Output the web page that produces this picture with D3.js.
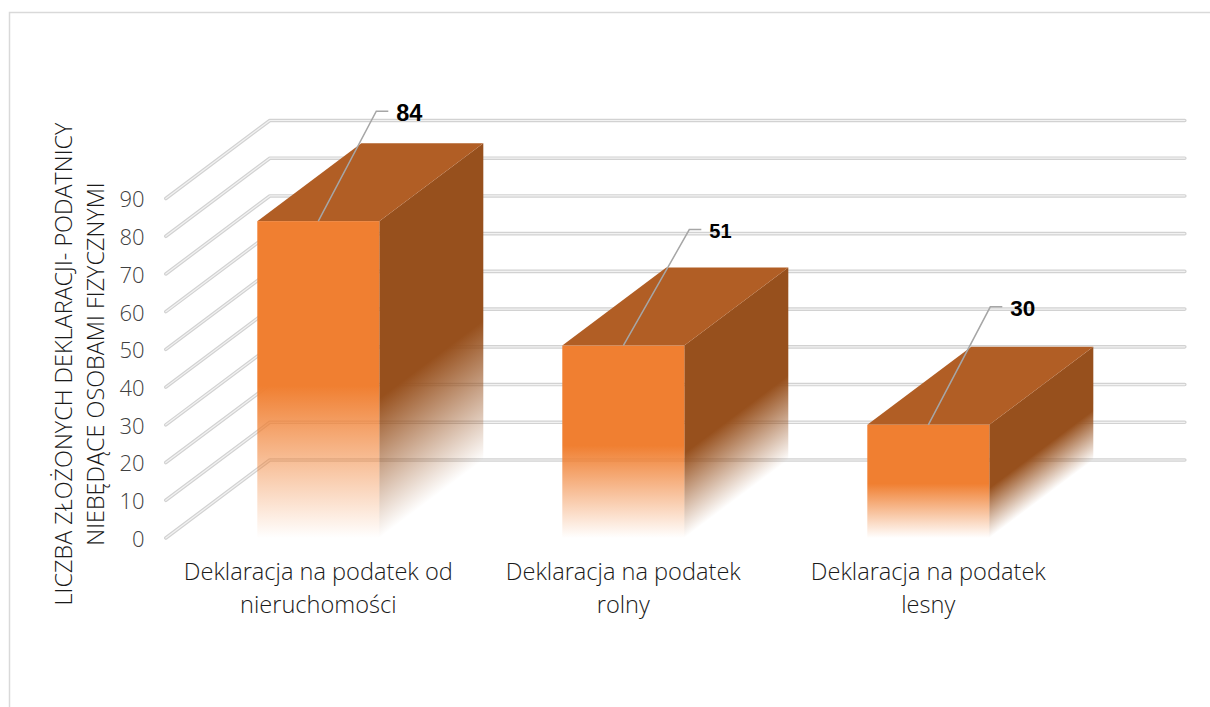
<!DOCTYPE html>
<html><head><meta charset="utf-8">
<script src="https://d3js.org/d3.v7.min.js"></script>
<style>html,body{margin:0;padding:0;background:#fff}svg{display:block}</style>
</head><body><svg id="c" width="1210" height="707"></svg>
<script>
const categories = [["Deklaracja na podatek od","nieruchomości"],["Deklaracja na podatek","rolny"],["Deklaracja na podatek","lesny"]];
const values = [84,51,30];
const ticks = [0,10,20,30,40,50,60,70,80,90];
const axisTitle = ["LICZBA ZŁOŻONYCH DEKLARACJI- PODATNICY","NIEBĘDĄCE OSOBAMI FIZYCZNYMI"];
const labelSizes = [23.5,20,22.5];

const svg = d3.select("#c");
const dx = 104, dy = -78;
const x = d3.scaleBand().domain(d3.range(categories.length)).range([165.8,1080.8]).paddingInner(0.6).paddingOuter(0.3);
const y = d3.scaleLinear().domain([0,90]).range([538,198.5]);
const x0 = x.range()[0], x1 = x.range()[1];

// frame
svg.append("path").attr("d","M9.5,707V12.5H1210").attr("fill","none").attr("stroke","#d9d9d9").attr("stroke-width",1.5);

// grid
const gridPath = t => `M${x0},${y(t)}L${x0+dx},${y(t)+dy}L${x1+dx},${y(t)+dy}`;
const g = svg.append("g").attr("fill","none").attr("stroke-linejoin","round").attr("stroke-linecap","round");
g.selectAll("path.o").data(ticks).join("path").attr("class","o").attr("d",gridPath).attr("stroke","#d2d2d2").attr("stroke-width",3.6);
g.selectAll("path.i").data(ticks).join("path").attr("class","i").attr("d",gridPath).attr("stroke","#f2f2f2").attr("stroke-width",1.2);

// axis tick labels
svg.append("g").selectAll("text").data(ticks).join("text")
  .attr("x",144.5).attr("y",d=>y(d)+1).attr("dy","0.36em").attr("text-anchor","end")
  .attr("font-family","'Open Sans'").attr("font-size",22).attr("font-weight",300).attr("fill","#404040").text(d=>d);

// axis title
const title = svg.append("g").attr("font-family","'Open Sans'").attr("font-size",23.4).attr("font-weight",300).attr("fill","#1a1a1a").attr("text-anchor","middle");
axisTitle.forEach((t,i)=>title.append("text").attr("transform",`translate(${72+i*32},364) rotate(-90)`).text(t));

// bars
const defs = svg.append("defs");
function grad(id,c,a,b,mid){
  const lg = defs.append("linearGradient").attr("id",id).attr("gradientUnits","userSpaceOnUse")
    .attr("x1",a[0]).attr("y1",a[1]).attr("x2",b[0]).attr("y2",b[1]);
  [[0,1],[mid,1],[1,0]].forEach(s=>lg.append("stop").attr("offset",s[0]).attr("stop-color",c).attr("stop-opacity",s[1]));
}
const bars = svg.append("g");
values.forEach((v,i)=>{
  const l = x(i), r = l + x.bandwidth(), t = y(v), b = y(0);
  grad("f"+i,"#f07f31",[l,t],[l,b],0.52);
  const k = dx*(b-t)/(dy*dy+dx*dx);
  grad("s"+i,"#97501d",[r,t],[r+k*(-dy),t+k*dx],0.56);
  bars.append("path").attr("d",`M${r},${t}L${r+dx},${t+dy}V${b+dy}L${r},${b}Z`).attr("fill",`url(#s${i})`);
  bars.append("path").attr("d",`M${l},${t}L${l+dx},${t+dy}H${r+dx}L${r},${t}Z`).attr("fill","#b15e25");
  bars.append("rect").attr("x",l).attr("y",t).attr("width",r-l).attr("height",b-t).attr("fill",`url(#f${i})`);
});

// leader lines and value labels
const leaderRun = [58,66,62], leaderRise = [110,116,118];
const labels = svg.append("g");
values.forEach((v,i)=>{
  const px = x(i)+x.bandwidth()/2, t = y(v);
  const mx = px+leaderRun[i], my = t-leaderRise[i], ex = mx+12;
  labels.append("path").attr("d",`M${px},${t}L${mx},${my}H${ex}`).attr("fill","none").attr("stroke","#a6a6a6").attr("stroke-width",1.5);
  labels.append("text").attr("x",ex+8).attr("y",my+1).attr("dy","0.36em").attr("font-family","'Liberation Sans'").attr("font-weight","bold").attr("font-size",labelSizes[i]).attr("fill","#000").text(v);
});

// category labels
const cats = svg.append("g").attr("font-family","'Open Sans'").attr("font-size",23.6).attr("font-weight",300).attr("fill","#1a1a1a").attr("text-anchor","middle");
categories.forEach((lines,i)=>lines.forEach((s,j)=>cats.append("text").attr("x",x(i)+x.bandwidth()/2).attr("y",580+j*33).text(s)));
</script></body></html>
